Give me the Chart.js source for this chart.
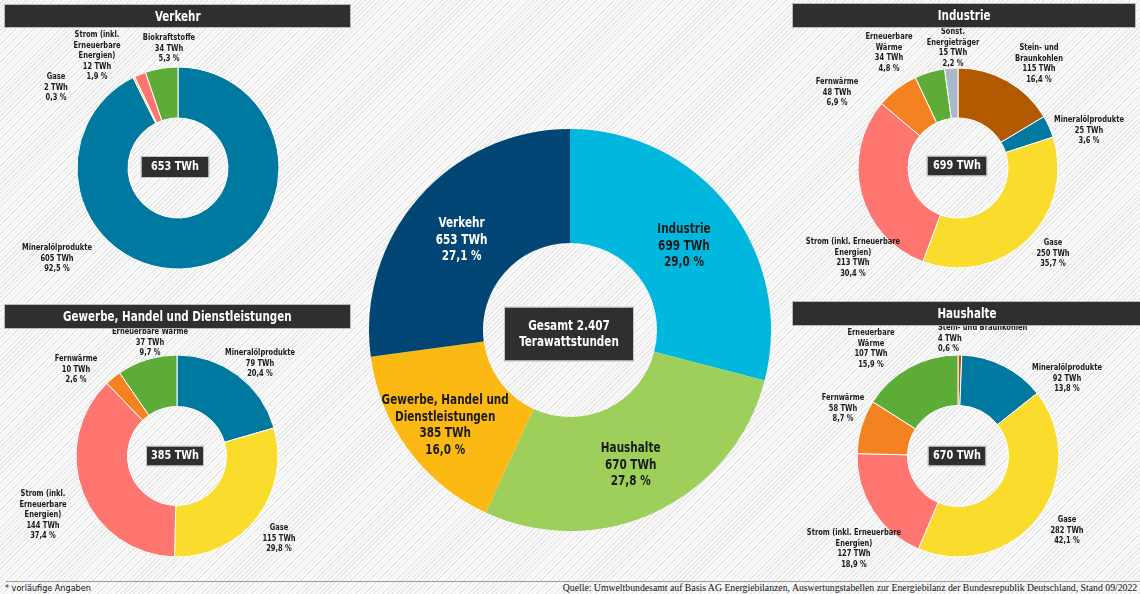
<!DOCTYPE html>
<html lang="de">
<head>
<meta charset="utf-8">
<script src="https://cdn.jsdelivr.net/npm/chart.js"></script>
<style>
  html, body { margin: 0; padding: 0; }
  body {
    width: 1140px; height: 594px; position: relative; overflow: hidden;
    background: repeating-linear-gradient(135deg, #fbfbfb 0px, #fbfbfb 2px, #e8e8e8 2px, #e8e8e8 3.2px);
    font-family: 'Liberation Sans Narrow', 'DejaVu Sans Condensed', 'Open Sans', sans-serif;
  }
  canvas { position: absolute; z-index: 1; }
  .bar {
    position: absolute; z-index: 2; background: #2f2f2f; color: #fff;
    font-weight: bold; font-size: 14px; text-align: center;
    box-shadow: 0 0 0 1px #bbb;
  }
  .bar span { display: inline-block; transform: scaleX(0.82); white-space: nowrap; }
  .rule { position: absolute; left: 6px; top: 581px; width: 1134px; height: 1px; background: #9a9a9a; }
  .note { position: absolute; left: 5px; top: 583px; font-size: 9px; color: #111; }
  .source {
    position: absolute; right: 3px; top: 582px; font-size: 10px; color: #111;
    font-family: 'Liberation Serif', 'DejaVu Serif', serif;
    transform: scaleX(0.975); transform-origin: right center; white-space: nowrap;
  }
</style>
</head>
<body>
<div class="bar" style="left:5px;top:5px;width:345px;height:22px;line-height:22px"><span>Verkehr</span></div>
<div class="bar" style="left:793px;top:4px;width:342px;height:23px;line-height:23px"><span>Industrie</span></div>
<div class="bar" style="left:5px;top:305px;width:345px;height:23px;line-height:23px"><span>Gewerbe, Handel und Dienstleistungen</span></div>
<div class="bar" style="left:793px;top:302px;width:347px;height:23px;line-height:23px"><span>Haushalte</span></div>
<div class="rule"></div>
<div class="note">* vorläufige Angaben</div>
<div class="source">Quelle: Umweltbundesamt auf Basis AG Energiebilanzen, Auswertungstabellen zur Energiebilanz der Bundesrepublik Deutschland, Stand 09/2022</div>

<canvas id="verkehr"></canvas>
<canvas id="industrie"></canvas>
<canvas id="ghd"></canvas>
<canvas id="haushalte"></canvas>
<canvas id="gesamt"></canvas>

<script>
// --- Daten ---
const sectorNames = ['Industrie', 'Haushalte', 'Gewerbe, Handel und\nDienstleistungen', 'Verkehr']
const sectorTWh = [699, 670, 385, 653]
const sectorPct = ['29,0', '27,8', '16,0', '27,1']
const gesamtText = ['Gesamt 2.407', 'Terawattstunden']

const verkehrNames = ['Mineralölprodukte', 'Gase', 'Strom (inkl.\nErneuerbare\nEnergien)', 'Biokraftstoffe']
const verkehrTWh = [605, 2, 12, 34]
const verkehrPct = ['92,5', '0,3', '1,9', '5,3']
const verkehrTotal = 653

const industrieNames = ['Stein- und\nBraunkohlen', 'Mineralölprodukte', 'Gase', 'Strom (inkl. Erneuerbare\nEnergien)', 'Fernwärme', 'Erneuerbare\nWärme', 'Sonst.\nEnergieträger']
const industrieTWh = [115, 25, 250, 213, 48, 34, 15]
const industriePct = ['16,4', '3,6', '35,7', '30,4', '6,9', '4,8', '2,2']
const industrieTotal = 699

const ghdNames = ['Mineralölprodukte', 'Gase', 'Strom (inkl.\nErneuerbare\nEnergien)', 'Fernwärme', 'Erneuerbare Wärme']
const ghdTWh = [79, 115, 144, 10, 37]
const ghdPct = ['20,4', '29,8', '37,4', '2,6', '9,7']
const ghdTotal = 385

const haushalteNames = ['Stein- und Braunkohlen', 'Mineralölprodukte', 'Gase', 'Strom (inkl. Erneuerbare\nEnergien)', 'Fernwärme', 'Erneuerbare\nWärme']
const haushalteTWh = [4, 92, 282, 127, 58, 107]
const haushaltePct = ['0,6', '13,8', '42,1', '18,9', '8,7', '15,9']
const haushalteTotal = 670

// --- Farben ---
const C = {
    oel: '#0079a1', gas: '#f9dc2c', strom: '#ff7570', gruen: '#5dac37',
    fern: '#f58220', kohle: '#b35a00', sonst: '#a9b9c9'
}
const sectorColors = ['#00b8de', '#9dcf5a', '#fdb913', '#004574']

const FONT = "'Liberation Sans Narrow', 'DejaVu Sans Condensed', 'Open Sans', sans-serif"
const SQUEEZE = 0.83   // the original uses a narrow font

// text drawn a bit condensed
let narrowText = function(ctx, text, x, y) {
    ctx.save()
    ctx.translate(x, y)
    ctx.scale(SQUEEZE, 1)
    ctx.fillText(text, 0, 0)
    ctx.restore()
}

// Draws outer labels (offset from the doughnut center) and the dark total box
const sliceLabels = {
    id: 'sliceLabels',
    afterDraw(chart, args, opts) {
        const ctx = chart.ctx
        const arcs = chart.getDatasetMeta(0).data
        const cx = arcs[0].x, cy = arcs[0].y
        const names = chart.data.labels
        ctx.save()
        ctx.textBaseline = 'middle'
        if (opts.inside) {
            // big chart: labels in the middle of each ring segment
            ctx.font = 'bold 14px ' + FONT
            ctx.textAlign = 'center'
            arcs.forEach((arc, i) => {
                const p = arc.getCenterPoint()
                const n = opts.nudge[i]
                const lines = names[i].split('\n').concat([opts.values[i] + ' TWh', opts.pct[i] + ' %'])
                const lh = 16.5
                const y0 = p.y + n[1] - (lines.length - 1) * lh / 2
                ctx.fillStyle = opts.textColors[i]
                lines.forEach((l, k) => narrowText(ctx, l, p.x + n[0], y0 + k * lh))
            })
        } else {
            ctx.font = 'bold 9px ' + FONT
            ctx.fillStyle = '#1a1a1a'
            opts.pos.forEach((pos, i) => {
                const lines = names[i].split('\n').concat([opts.values[i] + ' TWh', opts.pct[i] + ' %'])
                ctx.textAlign = pos[2] || 'center'
                lines.forEach((l, k) => narrowText(ctx, l, cx + pos[0], cy + pos[1] + k * 10.5))
            })
        }
        // total box
        const box = opts.box
        ctx.font = 'bold ' + box.size + 'px ' + FONT
        ctx.fillStyle = '#2f2f2f'
        ctx.fillRect(cx + box.dx - box.w / 2, cy + box.dy - box.h / 2, box.w, box.h)
        ctx.strokeStyle = '#c4c4c4'
        ctx.lineWidth = 1
        ctx.strokeRect(cx + box.dx - box.w / 2 - 0.5, cy + box.dy - box.h / 2 - 0.5, box.w + 1, box.h + 1)
        ctx.fillStyle = '#fff'
        ctx.textAlign = 'center'
        const bl = box.lines
        bl.forEach((l, k) => narrowText(ctx, l, cx + box.dx, cy + box.dy + (k - (bl.length - 1) / 2) * 16))
        ctx.restore()
    }
}

let makeDoughnut = function(id, cx, cy, w, h, cfg) {
    const el = document.getElementById(id)
    el.width = w
    el.height = h
    el.style.left = (cx - w / 2) + 'px'
    el.style.top = (cy - h / 2) + 'px'
    return new Chart(el, {
        type: 'doughnut',
        data: {
            labels: cfg.labels,
            datasets: [{
                data: cfg.values,
                backgroundColor: cfg.colors,
                borderColor: '#ffffff',
                borderWidth: cfg.border
            }]
        },
        options: {
            responsive: false,
            animation: false,
            radius: cfg.radius,
            cutout: cfg.cutout,
            events: [],
            plugins: {
                legend: { display: false },
                tooltip: { enabled: false },
                sliceLabels: cfg.plugin
            }
        },
        plugins: [sliceLabels]
    })
}

// Verkehr
makeDoughnut('verkehr', 178, 168, 340, 300, {
    labels: verkehrNames, values: verkehrTWh,
    colors: [C.oel, C.gas, C.strom, C.gruen],
    radius: 101, cutout: '49.5%', border: 1,
    plugin: {
        values: verkehrTWh, pct: verkehrPct,
        pos: [[-121, 80], [-122, -91], [-81, -133], [-9, -130]],
        box: { lines: [verkehrTotal + ' TWh'], dx: -3, dy: -1, w: 67, h: 20, size: 13 }
    }
})

// Industrie
makeDoughnut('industrie', 958, 168, 340, 300, {
    labels: industrieNames, values: industrieTWh,
    colors: [C.kohle, C.oel, C.gas, C.strom, C.fern, C.gruen, C.sonst],
    radius: 100, cutout: '50%', border: 1,
    plugin: {
        values: industrieTWh, pct: industriePct,
        pos: [[81, -120], [131, -48], [95, 75], [-105, 74], [-121, -86], [-69, -131], [-5, -136]],
        box: { lines: [industrieTotal + ' TWh'], dx: -1, dy: -2, w: 59, h: 19, size: 13 }
    }
})

// Gewerbe, Handel und Dienstleistungen
makeDoughnut('ghd', 177, 456, 340, 290, {
    labels: ghdNames, values: ghdTWh,
    colors: [C.oel, C.gas, C.strom, C.fern, C.gruen],
    radius: 101, cutout: '49%', border: 1,
    plugin: {
        values: ghdTWh, pct: ghdPct,
        pos: [[83, -103], [102, 72], [-134, 38], [-101, -97], [-27, -124]],
        box: { lines: [ghdTotal + ' TWh'], dx: -2, dy: 0, w: 56, h: 19, size: 13 }
    }
})

// Haushalte
makeDoughnut('haushalte', 958, 456, 340, 290, {
    labels: haushalteNames, values: haushalteTWh,
    colors: [C.kohle, C.oel, C.gas, C.strom, C.fern, C.gruen],
    radius: 101, cutout: '50%', border: 1,
    plugin: {
        values: haushalteTWh, pct: haushaltePct,
        pos: [[-20, -128, 'left'], [109, -88], [109, 64], [-104, 77], [-115, -58], [-87, -123]],
        box: { lines: [haushalteTotal + ' TWh'], dx: -1, dy: 0, w: 57, h: 19, size: 13 }
    }
})

// Gesamt (Mitte)
makeDoughnut('gesamt', 570, 330, 420, 420, {
    labels: sectorNames, values: sectorTWh,
    colors: sectorColors,
    radius: 201, cutout: '43.3%', border: 0,
    plugin: {
        inside: true,
        values: sectorTWh, pct: sectorPct,
        nudge: [[0, 4], [-1, 5], [-9, 10], [0, 5]],
        textColors: ['#1a1a1a', '#1a1a1a', '#1a1a1a', '#ffffff'],
        box: { lines: gesamtText, dx: -1, dy: 4, w: 128, h: 53, size: 14 }
    }
})
</script>
</body>
</html>
